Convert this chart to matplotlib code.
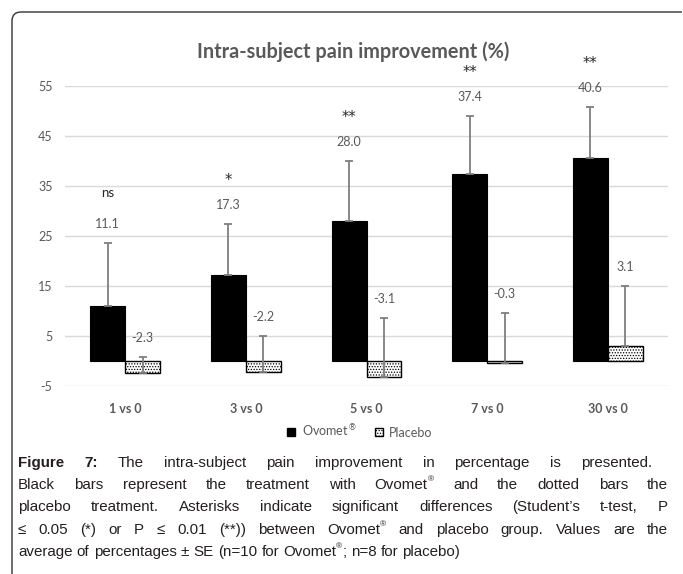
import numpy as np
import matplotlib
matplotlib.use("Agg")
import matplotlib.pyplot as plt
from matplotlib import font_manager
from matplotlib.path import Path
from matplotlib.patches import PathPatch, Patch

# data
categories = ["1 vs 0", "3 vs 0", "5 vs 0", "7 vs 0", "30 vs 0"]
ovomet = [11.1, 17.3, 28.0, 37.4, 40.6]
ovomet_se = [12.5, 10.1, 12.0, 11.6, 10.2]
placebo = [-2.3, -2.2, -3.1, -0.3, 3.1]
placebo_se = [3.1, 7.2, 11.7, 9.9, 11.9]
signif = ["ns", "*", "**", "**", "**"]
yticks = [-5, 5, 15, 25, 35, 45, 55]

caption_lines = [
    "Figure 7: The intra-subject pain improvement in percentage is presented.",
    "Black bars represent the treatment with Ovomet® and the dotted bars the",
    "placebo treatment. Asterisks indicate significant differences (Student’s t-test, P",
    "≤ 0.05 (*) or P ≤ 0.01 (**)) between Ovomet® and placebo group. Values are the",
    "average of percentages ± SE (n=10 for Ovomet®; n=8 for placebo)",
]
# right edge of each caption line in pixels (None = not stretched)
line_right = [652, 668, 668, 668, None]

W, H = 683, 574
GREY = "#595959"
plt.rcParams["hatch.linewidth"] = 0.6
fig = plt.figure(figsize=(W / 100, H / 100), dpi=100)


def fx(x):
    return x / W


def fy(y):
    return 1 - y / H


# frame around the figure (rounded top-left corner)
r = 9
verts = [(12, H), (12, 12 + r), (12, 12), (12 + r, 12), (682, 12)]
codes = [Path.MOVETO, Path.LINETO, Path.CURVE3, Path.CURVE3, Path.LINETO]
frame = Path([(fx(a), fy(b)) for a, b in verts], codes)
fig.patches.append(PathPatch(frame, transform=fig.transFigure, fill=False,
                             edgecolor="#333333", lw=1.0))

ax = fig.add_axes([fx(65), fy(386), fx(668) - fx(65), (386 - 86) / H])
x = np.arange(len(categories))
bw = 0.29
ax.bar(x - bw / 2, ovomet, bw, color="black", edgecolor="black", lw=0.8, zorder=2)
ax.bar(x + bw / 2, placebo, bw, color="white", edgecolor="black", hatch="......",
       lw=1.0, zorder=2)
ax.errorbar(x - bw / 2, ovomet, yerr=[np.zeros(5), ovomet_se], fmt="none",
            ecolor="#7f7f7f", elinewidth=1.3, capsize=3, capthick=1.3, zorder=3)
ax.errorbar(x + bw / 2, placebo, yerr=[np.zeros(5), placebo_se], fmt="none",
            ecolor="#7f7f7f", elinewidth=1.3, capsize=3, capthick=1.3, zorder=3)

for i in range(len(categories)):
    top = ovomet[i] + ovomet_se[i]
    ax.annotate(f"{ovomet[i]:.1f}", (x[i] - bw / 2, top), xytext=(0, 14),
                textcoords="offset points", ha="center", va="center",
                fontsize=9, color=GREY, family="Lato")
    if signif[i] == "ns":
        ax.annotate(signif[i], (x[i] - bw / 2, top), xytext=(0, 36),
                    textcoords="offset points", ha="center", va="center",
                    fontsize=9.5, color="#262626", family="Lato")
    else:
        ax.annotate(signif[i], (x[i] - bw / 2, top), xytext=(0, 31),
                    textcoords="offset points", ha="center", va="center",
                    fontsize=10.5, color="#262626", family="DejaVu Sans")
    ptop = placebo[i] + placebo_se[i]
    ax.annotate(f"{placebo[i]:.1f}", (x[i] + bw / 2, ptop), xytext=(0, 14),
                textcoords="offset points", ha="center", va="center",
                fontsize=9, color=GREY, family="Lato")

ax.set_xlim(-0.5, 4.5)
ax.set_ylim(-5, 55)
ax.set_yticks(yticks)
ax.set_yticklabels([str(t) for t in yticks], family="Lato", fontsize=9, color=GREY)
ax.set_xticks(x)
ax.set_xticklabels(categories, family="Lato", fontsize=9, color=GREY, fontweight="bold")
ax.tick_params(length=0)
ax.tick_params(axis="y", pad=9)
ax.tick_params(axis="x", pad=12)
ax.grid(axis="y", color="#d9d9d9", lw=1.0, zorder=0)
ax.set_axisbelow(True)
for s in ax.spines.values():
    s.set_visible(False)

fig.text(fx(353), fy(52), "Intra-subject pain improvement (%)", ha="center",
         va="center", fontsize=14.3, fontweight="bold", color=GREY, family="Lato")

handles = [Patch(facecolor="black", edgecolor="black"),
           Patch(facecolor="white", edgecolor="black", hatch="......")]
leg = fig.legend(handles, ["Ovomet$^{®}$", "Placebo"], loc="center",
                 bbox_to_anchor=(fx(360), fy(431)), ncol=2, frameon=False,
                 handlelength=0.65, handleheight=0.65, handletextpad=0.5,
                 columnspacing=1.5, prop={"family": "Lato", "size": 9})
for t in leg.get_texts():
    t.set_color(GREY)

# caption font: a narrow Arial look-alike if there is one
names = {f.name for f in font_manager.fontManager.ttflist}
if "Liberation Sans Narrow" in names:
    cap_font, cap_size = "Liberation Sans Narrow", 13.3
else:
    cap_font, cap_size = "Liberation Sans", 10.9

# caption, with justified lines drawn word by word
fig.canvas.draw()
rend = fig.canvas.get_renderer()
left = 18
base_y = 463
line_h = 22.2


def word_parts(w, first):
    # split a word into (text, bold, superscript) pieces
    if first and w in ("Figure", "7:"):
        return [(w, True, False)]
    if "®" in w:
        a, b = w.split("®", 1)
        parts = [(a, False, False), ("®", False, True)]
        if b:
            parts.append((b, False, False))
        return parts
    return [(w, False, False)]


def measure(txt, bold, sup):
    t = fig.text(0, 0, txt, fontsize=cap_size * (0.55 if sup else 1),
                 family=cap_font, fontweight="bold" if bold else "normal")
    wpx = t.get_window_extent(rend).width
    t.remove()
    return wpx


space_w = measure("a a", False, False) - measure("aa", False, False)

for li, line in enumerate(caption_lines):
    words = line.split(" ")
    pieces = [word_parts(w, li == 0) for w in words]
    widths = [sum(measure(*p) for p in ps) for ps in pieces]
    if line_right[li] is not None:
        gap = (line_right[li] - left - sum(widths)) / (len(words) - 1)
    else:
        gap = space_w
    y = base_y + li * line_h
    cx = left
    for ps, wd in zip(pieces, widths):
        px = cx
        for txt, bold, sup in ps:
            fs = cap_size * (0.55 if sup else 1)
            yy = y - 5 if sup else y
            fig.text(fx(px), fy(yy), txt, fontsize=fs, family=cap_font,
                     fontweight="bold" if bold else "normal", color="#231f20",
                     ha="left", va="center")
            px += measure(txt, bold, sup)
        cx += wd + gap

fig.savefig("out.png", dpi=100)
